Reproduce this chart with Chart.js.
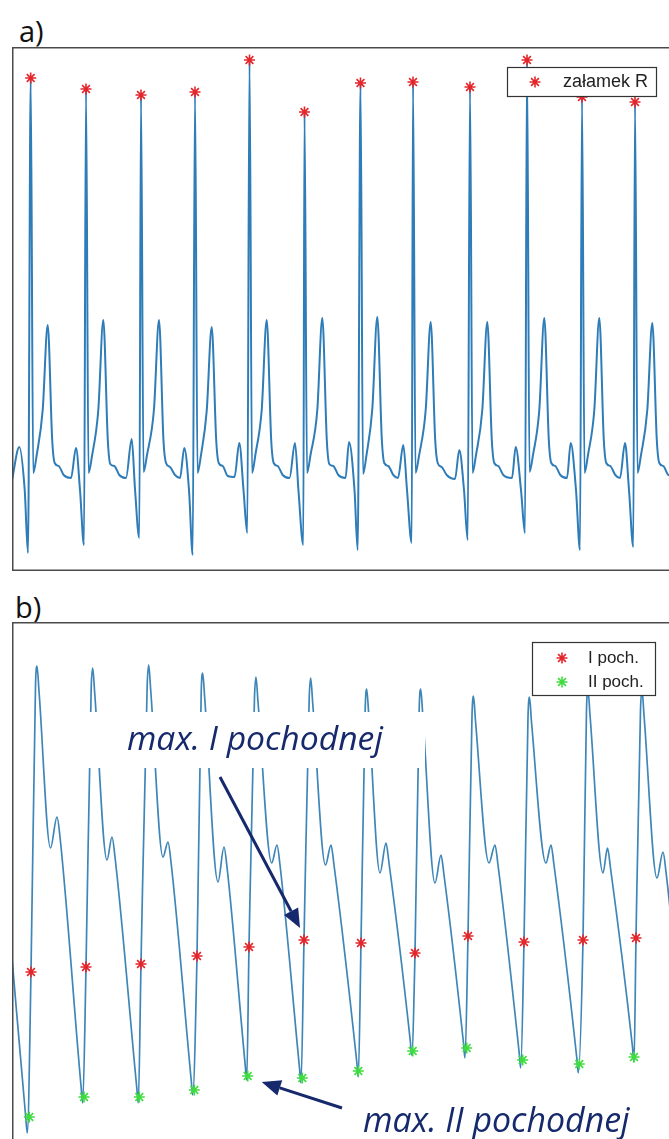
<!DOCTYPE html>
<html lang="pl">
<head>
<meta charset="utf-8">
<title>EKG i fala tętna – załamek R, pochodne</title>
<script src="https://cdn.jsdelivr.net/npm/chart.js@4.4.1/dist/chart.umd.min.js"></script>
<style>
  html, body { margin: 0; padding: 0; background: #fff; overflow: hidden; }
  body { width: 669px; height: 1139px; position: relative; }
  .panel-label { position: absolute; font-family: 'Open Sans', sans-serif; font-size: 29px; line-height: 1; color: #111; }
  .chart-box { position: absolute; left: 12px; }
  #boxA { top: 47px; }
  #boxB { top: 622px; }
</style>
</head>
<body>
<div class="panel-label" style="left:19px; top:16px;">a)</div>
<div class="panel-label" style="left:15px; top:592px;">b)</div>
<div class="chart-box" id="boxA"><canvas id="ecgChart" width="680" height="524"></canvas></div>
<div class="chart-box" id="boxB"><canvas id="ppgChart" width="680" height="528"></canvas></div>

<script>
// ---- panel a: ECG (time in ms, amplitude in µV) ----
const ecgTime = [
  0, 73, 127, 160, 187, 212, 247, 307, 357, 402, 427, 467, 517,
  590, 640, 680, 720, 740, 765, 800, 863, 913, 958, 983, 1023, 1073,
  1140, 1197, 1230, 1273, 1290, 1315, 1350, 1420, 1470, 1515, 1540, 1580, 1630,
  1680, 1723, 1770, 1807, 1830, 1855, 1890, 1947, 1997, 2042, 2067, 2107, 2157,
  2225, 2273, 2315, 2353, 2375, 2400, 2435, 2497, 2547, 2592, 2617, 2657, 2707,
  2775, 2830, 2865, 2913, 2925, 2950, 2985, 3053, 3103, 3148, 3173, 3213, 3263,
  3335, 3370, 3425, 3457, 3485, 3510, 3545, 3603, 3653, 3698, 3723, 3763, 3813,
  3860, 3913, 3950, 3997, 4010, 4035, 4070, 4137, 4187, 4232, 4257, 4297, 4347,
  4430, 4473, 4520, 4557, 4580, 4605, 4640, 4703, 4753, 4798, 4823, 4863, 4913,
  5000, 5037, 5090, 5130, 5150, 5175, 5210, 5273, 5323, 5368, 5393, 5433, 5483,
  5550, 5587, 5640, 5680, 5700, 5725, 5760, 5823, 5873, 5918, 5943, 5983, 6033,
  6080, 6130, 6170, 6213, 6230, 6255, 6290, 6353, 6403, 6448, 6473, 6513, 6563, 6680
];
const ecgValue = [
  -50, 115, -100, -415, 1960, -15, 75, 300, 725, 150, 35, 20, -25,
  -40, 110, -100, -375, 1905, -15, 70, 300, 750, 150, 30, 20, -25,
  -40, 155, -95, -340, 1875, -10, 75, 305, 750, 145, 35, 15, -25,
  -40, 110, -100, -425, 1890, -15, 75, 295, 715, 150, 35, 20, -30,
  -35, 135, -100, -315, 2050, -15, 80, 300, 750, 150, 35, 20, -25,
  -40, 135, -105, -375, 1790, -15, 75, 300, 760, 150, 30, 20, -25,
  -40, 140, -100, -400, 1935, -20, 75, 305, 765, 155, 35, 20, -25,
  -40, 125, -100, -365, 1940, -15, 70, 300, 740, 150, 35, 15, -25,
  -45, 100, -100, -350, 1915, -15, 75, 300, 740, 150, 35, 20, -25,
  -40, 115, -100, -315, 2050, -10, 75, 300, 760, 150, 35, 20, -25,
  -40, 135, -100, -400, 1865, -15, 75, 300, 760, 150, 35, 20, -25,
  -40, 135, -100, -385, 1840, -15, 75, 300, 735, 150, 35, 20, -25, -40
];
const rPeakTime  = [187, 740, 1290, 1830, 2375, 2925, 3485, 4010, 4580, 5150, 5700, 6230];
const rPeakValue = [1960, 1905, 1875, 1890, 2050, 1790, 1935, 1940, 1915, 2050, 1865, 1840];

// ---- panel b: pulse wave (time in ms, amplitude in a.u.) ----
const ppgTime = [
  0, 138, 153, 190, 235, 250, 270, 385, 450, 480,
  692, 707, 740, 792, 807, 827, 950, 1000, 1030,
  1248, 1263, 1290, 1352, 1367, 1387, 1510, 1560, 1590,
  1792, 1807, 1850, 1892, 1907, 1927, 2060, 2120, 2150,
  2332, 2347, 2370, 2425, 2440, 2460, 2597, 2650, 2680,
  2875, 2890, 2920, 2972, 2987, 3007, 3135, 3190, 3220,
  3448, 3463, 3490, 3532, 3547, 3567, 3680, 3740, 3770,
  3982, 3997, 4030, 4072, 4087, 4107, 4230, 4290, 4320,
  4515, 4530, 4560, 4600, 4615, 4635, 4770, 4830, 4860,
  5072, 5087, 5120, 5160, 5175, 5195, 5340, 5390, 5420,
  5648, 5663, 5710, 5745, 5760, 5780, 5910, 5955, 5985,
  6205, 6220, 6240, 6285, 6300, 6320, 6450, 6510, 6540, 6680
];
const ppgValue = [
  364, 44, 14, 336, 908, 948, 898, 584, 646, 606,
  104, 74, 346, 904, 944, 894, 560, 606, 566,
  104, 74, 352, 910, 950, 900, 566, 596, 556,
  120, 90, 368, 894, 934, 884, 516, 586, 546,
  150, 120, 386, 886, 926, 876, 554, 590, 550,
  144, 114, 400, 884, 924, 874, 550, 590, 550,
  156, 126, 394, 862, 902, 852, 534, 594, 554,
  200, 170, 374, 862, 902, 852, 514, 570, 530,
  194, 164, 408, 848, 888, 838, 554, 590, 550,
  174, 144, 396, 846, 886, 836, 554, 590, 550,
  164, 134, 400, 860, 900, 850, 534, 584, 544,
  186, 156, 404, 860, 900, 850, 524, 576, 536, 260
];
// max. of the 1st derivative (red) and 2nd derivative (green)
const d1Time  = [190, 740, 1290, 1850, 2370, 2920, 3490, 4030, 4560, 5120, 5710, 6240];
const d1Value = [336, 346, 352, 368, 386, 400, 394, 374, 408, 396, 400, 404];
const d2Time  = [173, 720, 1273, 1823, 2357, 2903, 3463, 4007, 4547, 5107, 5673, 6220];
const d2Value = [46, 86, 86, 100, 128, 124, 138, 178, 184, 160, 152, 166];

const RED = '#e3262b';
const GREEN = '#3fdc3f';
const NAVY = '#15296c';

const pts = (xs, ys) => xs.map((x, i) => ({ x: x, y: ys[i] }));

// draw a matlab-like asterisk
function asterisk(ctx, x, y, r, color) {
  ctx.save();
  ctx.strokeStyle = color;
  ctx.lineWidth = 1.6;
  ctx.beginPath();
  for (let k = 0; k < 4; k++) {
    const a = k * Math.PI / 4;
    ctx.moveTo(x - r * Math.cos(a), y - r * Math.sin(a));
    ctx.lineTo(x + r * Math.cos(a), y + r * Math.sin(a));
  }
  ctx.stroke();
  ctx.restore();
}

// axes frame like the matlab box
const framePlugin = {
  id: 'frame',
  afterDraw(chart) {
    const { ctx, chartArea: a } = chart;
    ctx.save();
    ctx.strokeStyle = '#4a4a4a';
    ctx.lineWidth = 1.5;
    ctx.strokeRect(a.left + 0.75, a.top + 0.75, a.width - 1.5, a.height - 1.5);
    ctx.restore();
  }
};

// legend box drawn inside the plot area
const boxLegend = {
  id: 'boxLegend',
  afterDraw(chart, args, o) {
    if (!o.box) return;
    const ctx = chart.ctx;
    const [x, y, w, h] = o.box;
    ctx.save();
    ctx.fillStyle = '#fff';
    ctx.fillRect(x, y, w, h);
    ctx.strokeStyle = '#333';
    ctx.lineWidth = 1.2;
    ctx.strokeRect(x + 0.5, y + 0.5, w, h);
    ctx.font = o.font;
    ctx.textBaseline = 'middle';
    ctx.textAlign = 'left';
    chart.data.datasets.filter(d => d.label).forEach((d, i) => {
      const cy = y + o.firstRow + i * o.rowGap;
      asterisk(ctx, x + o.markerX, cy, 5.5, d.pointBorderColor);
      ctx.fillStyle = '#222';
      ctx.fillText(d.label, x + o.textX, cy);
    });
    ctx.restore();
  }
};

// text call-outs with arrows (panel b)
function arrow(ctx, x1, y1, x2, y2) {
  const ang = Math.atan2(y2 - y1, x2 - x1);
  const len = 19, half = 8;
  const bx = x2 - len * Math.cos(ang), by = y2 - len * Math.sin(ang);
  ctx.beginPath();
  ctx.moveTo(x1, y1);
  ctx.lineTo(bx, by);
  ctx.stroke();
  ctx.beginPath();
  ctx.moveTo(x2, y2);
  ctx.lineTo(bx + half * Math.sin(ang), by - half * Math.cos(ang));
  ctx.lineTo(bx - half * Math.sin(ang), by + half * Math.cos(ang));
  ctx.closePath();
  ctx.fill();
}

function fitFont(ctx, text, family, width) {
  ctx.font = 'italic 100px ' + family;
  const size = 100 * width / ctx.measureText(text).width;
  return 'italic ' + size.toFixed(1) + 'px ' + family;
}

const callouts = {
  id: 'callouts',
  afterDraw(chart, args, o) {
    if (!o.items) return;
    const ctx = chart.ctx;
    const xs = chart.scales.x, ys = chart.scales.y;
    ctx.save();
    o.items.forEach(it => {
      if (it.whiteBox) {
        ctx.fillStyle = '#fff';
        ctx.fillRect(...it.whiteBox);
      }
      ctx.fillStyle = NAVY;
      ctx.strokeStyle = NAVY;
      ctx.lineWidth = 3;
      ctx.font = fitFont(ctx, it.text, "'Open Sans', sans-serif", it.width);
      ctx.textBaseline = 'alphabetic';
      ctx.fillText(it.text, it.tx, it.ty);
      const tipX = xs.getPixelForValue(it.target.x) + it.tipOffset[0];
      const tipY = ys.getPixelForValue(it.target.y) + it.tipOffset[1];
      arrow(ctx, it.tail[0], it.tail[1], tipX, tipY);
    });
    ctx.restore();
  }
};

const baseOptions = (xMax, yMin, yMax) => ({
  responsive: false,
  animation: false,
  events: [],
  layout: { padding: 0, autoPadding: false },
  scales: {
    x: { type: 'linear', min: 0, max: xMax, display: false },
    y: { type: 'linear', min: yMin, max: yMax, display: false }
  }
});

const markerSet = (label, xs, ys, color) => ({
  label: label,
  data: pts(xs, ys),
  showLine: false,
  pointStyle: 'star',
  pointRadius: 5.5,
  pointBorderWidth: 1.6,
  pointBorderColor: color,
  pointBackgroundColor: color,
  order: 1
});

// ---- chart a ----
const optA = baseOptions(6800, -505, 2115);
optA.plugins = {
  legend: { display: false },
  tooltip: { enabled: false },
  boxLegend: { box: [495, 20, 149, 29], font: "18px 'Liberation Sans', Arial, sans-serif", firstRow: 15, rowGap: 0, markerX: 28, textX: 56 }
};
new Chart(document.getElementById('ecgChart'), {
  type: 'line',
  data: {
    datasets: [
      {
        label: '',
        data: pts(ecgTime, ecgValue),
        borderColor: '#2e7cb8',
        borderWidth: 2,
        pointRadius: 0,
        cubicInterpolationMode: 'monotone',
        order: 2
      },
      markerSet('załamek R', rPeakTime, rPeakValue, RED)
    ]
  },
  options: optA,
  plugins: [framePlugin, boxLegend]
});

// ---- chart b ----
const optB = baseOptions(6800, -20, 1036);
optB.plugins = {
  legend: { display: false },
  tooltip: { enabled: false },
  boxLegend: { box: [520, 20, 123, 53], font: "17px 'Liberation Sans', Arial, sans-serif", firstRow: 16, rowGap: 24, markerX: 30, textX: 56 },
  callouts: {
    items: [
      { text: 'max. I pochodnej', tx: 115, ty: 128, width: 256, whiteBox: [76, 90, 337, 56],
        tail: [208, 155], target: { x: d1Time[5], y: d1Value[5] }, tipOffset: [-4, -12] },
      { text: 'max. II pochodnej', tx: 351, ty: 510, width: 267,
        tail: [330, 486], target: { x: d2Time[4], y: d2Value[4] }, tipOffset: [14, 6] }
    ]
  }
};
new Chart(document.getElementById('ppgChart'), {
  type: 'line',
  data: {
    datasets: [
      {
        label: '',
        data: pts(ppgTime, ppgValue),
        borderColor: '#3f86b8',
        borderWidth: 1.7,
        pointRadius: 0,
        cubicInterpolationMode: 'monotone',
        order: 2
      },
      markerSet('I poch.', d1Time, d1Value, RED),
      markerSet('II poch.', d2Time, d2Value, GREEN)
    ]
  },
  options: optB,
  plugins: [framePlugin, callouts, boxLegend]
});
</script>
</body>
</html>
